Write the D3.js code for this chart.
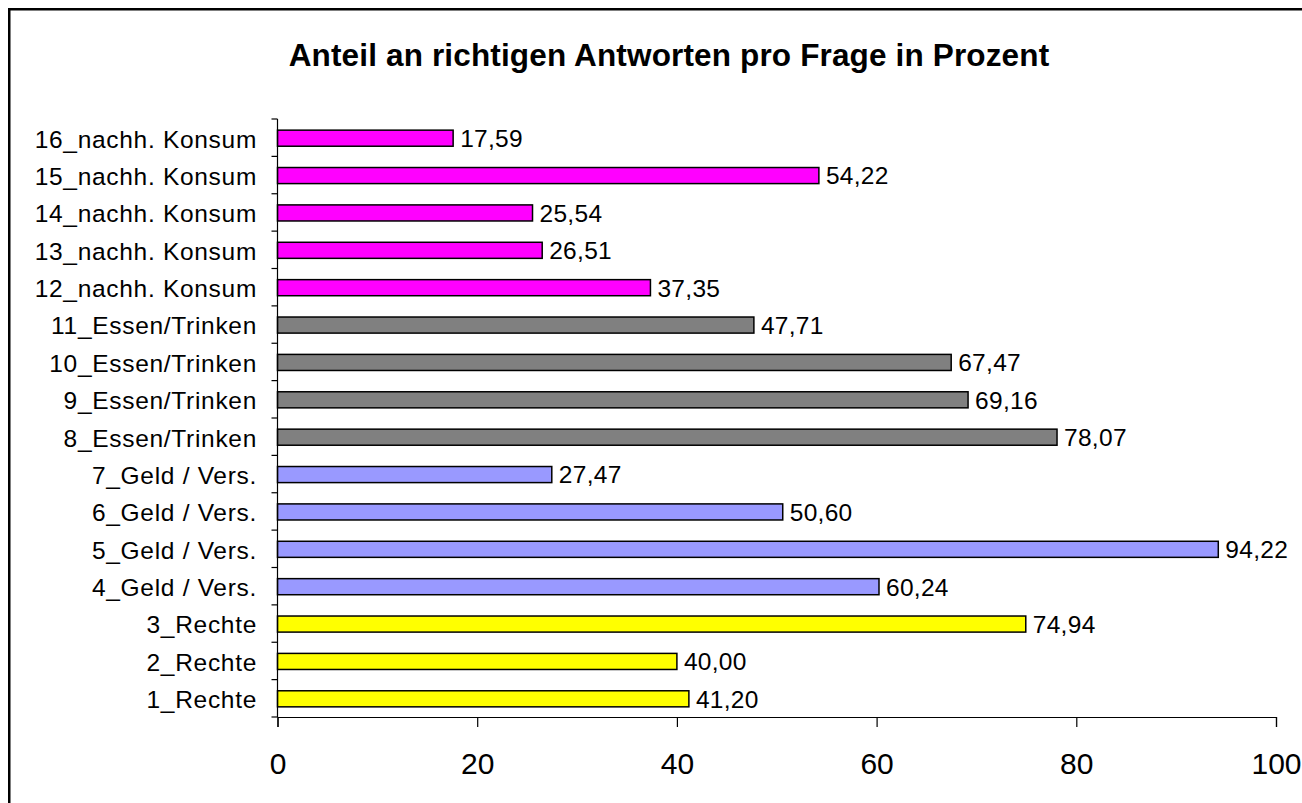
<!DOCTYPE html>
<html>
<head>
<meta charset="utf-8">
<script src="https://cdn.jsdelivr.net/npm/d3@7"></script>
<style>
  html, body { margin: 0; padding: 0; background: #fff; overflow: hidden; }
  svg { display: block; font-family: Arial, "Liberation Sans", sans-serif; }
</style>
</head>
<body>
<svg id="chart" width="1302" height="803"></svg>
<script>
const categories = [
  "1_Rechte", "2_Rechte", "3_Rechte",
  "4_Geld / Vers.", "5_Geld / Vers.", "6_Geld / Vers.", "7_Geld / Vers.",
  "8_Essen/Trinken", "9_Essen/Trinken", "10_Essen/Trinken", "11_Essen/Trinken",
  "12_nachh. Konsum", "13_nachh. Konsum", "14_nachh. Konsum", "15_nachh. Konsum", "16_nachh. Konsum"
];
const values = [41.20, 40.00, 74.94, 60.24, 94.22, 50.60, 27.47, 78.07, 69.16, 67.47, 47.71, 37.35, 26.51, 25.54, 54.22, 17.59];
const groups = ["Rechte", "Rechte", "Rechte",
  "Geld", "Geld", "Geld", "Geld",
  "Essen", "Essen", "Essen", "Essen",
  "Konsum", "Konsum", "Konsum", "Konsum", "Konsum"];
const groupNames = ["Rechte", "Geld", "Essen", "Konsum"];
const groupColors = ["#FFFF00", "#9999FF", "#808080", "#FF00FF"];
const xTicks = [0, 20, 40, 60, 80, 100];
const chartTitle = "Anteil an richtigen Antworten pro Frage in Prozent";

const data = categories.map((c, i) => ({ cat: c, val: values[i], grp: groups[i] }));

const svg = d3.select("#chart");
const plotLeft = 277.5, plotRight = 1276, plotTop = 119, plotBottom = 717;

// outer border
svg.append("rect")
  .attr("x", 9.25).attr("y", 9.25)
  .attr("width", 1400).attr("height", 900)
  .attr("fill", "none").attr("stroke", "#000").attr("stroke-width", 2.5);

svg.append("text")
  .attr("x", 669).attr("y", 66)
  .attr("text-anchor", "middle")
  .attr("font-weight", "bold")
  .attr("font-size", 31.5)
  .attr("letter-spacing", 0.15)
  .text(chartTitle);

const x = d3.scaleLinear().domain([0, 100]).range([plotLeft, plotRight]);
const y = d3.scaleBand().domain(categories.slice().reverse()).range([plotTop, plotBottom]).paddingInner(0.57).paddingOuter(0.285);
const yOuter = d3.scaleBand().domain(categories.slice().reverse()).range([plotTop, plotBottom]);
const color = d3.scaleOrdinal().domain(groupNames).range(groupColors);

// bars
svg.append("g").selectAll("rect").data(data).join("rect")
  .attr("x", x(0))
  .attr("y", d => y(d.cat) + 0.5)
  .attr("width", d => x(d.val) - x(0))
  .attr("height", y.bandwidth())
  .attr("fill", d => color(d.grp))
  .attr("stroke", "#000").attr("stroke-width", 1.5);

// value labels
svg.append("g").selectAll("text").data(data).join("text")
  .attr("x", d => x(d.val) + 7)
  .attr("y", d => y(d.cat) + 0.5 + y.bandwidth() / 2)
  .attr("dy", "0.36em")
  .attr("font-size", 24.5)
  .attr("letter-spacing", 0.3)
  .text(d => d3.format(".2f")(d.val).replace(".", ","));

// y axis
const yAxisG = svg.append("g");
yAxisG.append("line")
  .attr("x1", plotLeft).attr("x2", plotLeft).attr("y1", plotTop).attr("y2", plotBottom)
  .attr("stroke", "#000").attr("stroke-width", 1.2);
const boundaries = categories.map(c => yOuter(c)).concat([plotBottom]);
yAxisG.selectAll("line.tk").data(boundaries).join("line")
  .attr("class", "tk")
  .attr("x1", plotLeft - 6).attr("x2", plotLeft)
  .attr("y1", d => d).attr("y2", d => d)
  .attr("stroke", "#000").attr("stroke-width", 1.2);
yAxisG.selectAll("text").data(categories).join("text")
  .attr("x", 257)
  .attr("y", d => yOuter(d) + yOuter.bandwidth() / 2 + 1)
  .attr("dy", "0.36em")
  .attr("text-anchor", "end")
  .attr("font-size", 24.5)
  .attr("letter-spacing", 0.7)
  .text(d => d);

// x axis
const xAxis = d3.axisBottom(x).tickValues(xTicks).tickSize(10).tickPadding(26).tickFormat(d3.format("d"));
const xg = svg.append("g").attr("transform", `translate(0,${plotBottom})`).call(xAxis);
xg.select(".domain").attr("stroke", "#000").attr("stroke-width", 1.2);
xg.selectAll(".tick line").attr("stroke", "#000").attr("stroke-width", 1.2);
xg.selectAll(".tick text").attr("font-size", 30).attr("fill", "#000")
  .attr("font-family", "Arial, 'Liberation Sans', sans-serif");
</script>
</body>
</html>
